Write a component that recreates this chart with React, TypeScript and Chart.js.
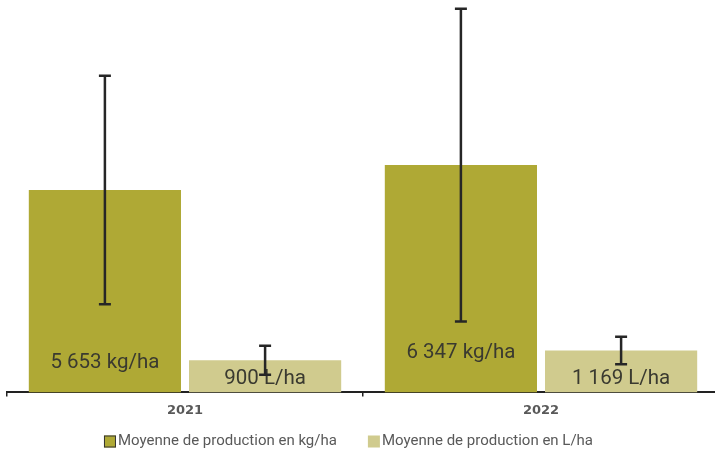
import { useEffect, useRef } from 'react';
import { Chart, registerables } from 'chart.js';

Chart.register(...registerables);

const categories = ['2021', '2022'];
const seriesNames = ['Moyenne de production en kg/ha', 'Moyenne de production en L/ha'];
const units = ['kg/ha', 'L/ha'];
const kgValues = [5653, 6347];
const lValues = [900, 1169];
const kgErrors = [3190, 4366];
const lErrors = [405, 382];

const KG_COLOR = '#AFA935';
const L_COLOR = '#D0CB8E';

const fmt = (v: number) => String(v).replace(/\B(?=(\d{3})+(?!\d))/g, ' ');

const barDecorPlugin = {
  id: 'barDecor',
  afterDatasetsDraw(chart: any) {
    const ctx = chart.ctx;
    const y = chart.scales.y;
    const base = y.getPixelForValue(0);
    // value labels
    chart.data.datasets.forEach((ds: any, i: number) => {
      const meta = chart.getDatasetMeta(i);
      meta.data.forEach((el: any, j: number) => {
        ctx.save();
        ctx.font = '20.5px Roboto';
        ctx.fillStyle = '#3a3a30';
        ctx.textAlign = 'center';
        ctx.textBaseline = 'middle';
        ctx.fillText(fmt(ds.data[j]) + ' ' + ds.unit, el.x, base - ds.labelLift[j]);
        ctx.restore();
      });
    });
    // error bars
    chart.data.datasets.forEach((ds: any, i: number) => {
      const meta = chart.getDatasetMeta(i);
      meta.data.forEach((el: any, j: number) => {
        const v = ds.data[j];
        const e = ds.errors[j];
        const top = y.getPixelForValue(v + e);
        const bot = y.getPixelForValue(v - e);
        const x = el.x;
        ctx.save();
        ctx.strokeStyle = '#262626';
        ctx.lineWidth = 2.5;
        ctx.beginPath();
        ctx.moveTo(x, top);
        ctx.lineTo(x, bot);
        ctx.moveTo(x - 6, top);
        ctx.lineTo(x + 6, top);
        ctx.moveTo(x - 6, bot);
        ctx.lineTo(x + 6, bot);
        ctx.stroke();
        ctx.restore();
      });
    });
  },
};

const legendPlugin = {
  id: 'manualLegend',
  afterDraw(chart: any, _args: any, opts: any) {
    const ctx = chart.ctx;
    ctx.save();
    ctx.font = opts.font;
    const box = 12;
    const gap = 2;
    const spacing = 31;
    const items = chart.data.datasets.map((ds: any) => ({
      label: ds.label,
      color: ds.backgroundColor,
      stroke: ds.legendStroke,
      w: ctx.measureText(ds.label).width,
    }));
    let total = 0;
    items.forEach((it: any, k: number) => {
      total += box + gap + it.w + (k < items.length - 1 ? spacing : 0);
    });
    let x = opts.centerX - total / 2;
    const cy = opts.centerY;
    items.forEach((it: any) => {
      ctx.fillStyle = it.color;
      ctx.fillRect(x, cy - box / 2, box, box);
      if (it.stroke) {
        ctx.strokeStyle = it.stroke;
        ctx.lineWidth = 1;
        ctx.strokeRect(x + 0.5, cy - box / 2 + 0.5, box - 1, box - 1);
      }
      ctx.fillStyle = '#595959';
      ctx.textAlign = 'left';
      ctx.textBaseline = 'middle';
      ctx.fillText(it.label, x + box + gap, cy);
      x += box + gap + it.w + spacing;
    });
    ctx.restore();
  },
};

export default function App() {
  const ref = useRef<HTMLCanvasElement>(null);

  useEffect(() => {
    if (!ref.current) return;
    const chart = new Chart(ref.current, {
      type: 'bar',
      data: {
        labels: categories,
        datasets: [
          {
            label: seriesNames[0],
            data: kgValues,
            backgroundColor: KG_COLOR,
            borderWidth: 0,
            categoryPercentage: 0.9,
            barPercentage: 0.95,
            errors: kgErrors,
            unit: units[0],
            labelLift: [30, 40],
            legendStroke: '#333333',
          } as any,
          {
            label: seriesNames[1],
            data: lValues,
            backgroundColor: L_COLOR,
            borderWidth: 0,
            categoryPercentage: 0.9,
            barPercentage: 0.95,
            errors: lErrors,
            unit: units[1],
            labelLift: [14, 14],
          } as any,
        ],
      },
      options: {
        responsive: false,
        animation: false,
        layout: { padding: { left: 7, right: 3, top: 2, bottom: 31 } },
        plugins: {
          legend: { display: false },
          tooltip: { enabled: false },
          manualLegend: { centerX: 348.5, centerY: 441.5, font: '15px Roboto' },
        } as any,
        scales: {
          x: {
            border: { display: true, color: '#222222', width: 2 },
            grid: {
              display: true,
              drawOnChartArea: false,
              drawTicks: true,
              tickLength: 4,
              color: '#222222',
              lineWidth: 1.5,
              offset: true,
            },
            ticks: {
              color: '#595959',
              font: { family: 'DejaVu Sans', size: 13, weight: 'bold' },
              padding: 6,
            },
          },
          y: {
            display: false,
            min: 0,
            max: 10900,
          },
        },
      },
      plugins: [barDecorPlugin, legendPlugin],
    });
    return () => chart.destroy();
  }, []);

  return (
    <div style={{ position: 'absolute', left: 0, top: 0, width: 715, height: 455, overflow: 'hidden', background: '#fff' }}>
      <canvas ref={ref} width={722} height={455} style={{ display: 'block' }} />
    </div>
  );
}
